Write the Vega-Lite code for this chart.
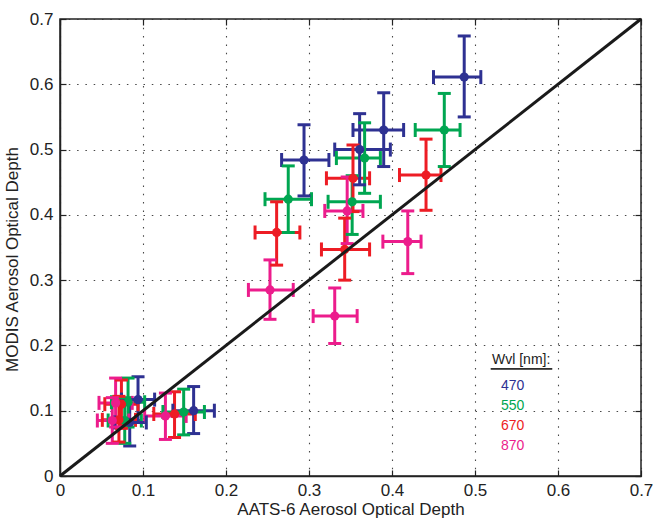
{
  "$schema": "https://vega.github.io/schema/vega-lite/v6.json",
  "width": 581,
  "height": 457,
  "autosize": "none",
  "padding": {"left": 60, "top": 19, "right": 13, "bottom": 43},
  "background": "white",
  "config": {
    "font": "Liberation Sans",
    "view": {"stroke": "#222", "strokeWidth": 1.5},
    "axis": {
      "labelFont": "Liberation Sans", "titleFont": "Liberation Sans",
      "labelFontSize": 17, "titleFontSize": 17, "labelColor": "#222", "titleColor": "#222",
      "titleFontWeight": "normal", "domainColor": "#222", "domainWidth": 1.5,
      "tickColor": "#222", "tickWidth": 1.2,
      "gridColor": "#333", "gridDash": [1.5, 6.8], "gridWidth": 1.1, "gridOpacity": 0.9
    }
  },
  "datasets": {
    "pts": [
      {"wvl": "470", "x": 0.487, "xlo": 0.450, "xhi": 0.507, "y": 0.611, "ylo": 0.550, "yhi": 0.674},
      {"wvl": "470", "x": 0.390, "xlo": 0.353, "xhi": 0.414, "y": 0.530, "ylo": 0.474, "yhi": 0.587},
      {"wvl": "470", "x": 0.361, "xlo": 0.331, "xhi": 0.398, "y": 0.500, "ylo": 0.446, "yhi": 0.555},
      {"wvl": "470", "x": 0.294, "xlo": 0.267, "xhi": 0.324, "y": 0.484, "ylo": 0.429, "yhi": 0.538},
      {"wvl": "470", "x": 0.161, "xlo": 0.136, "xhi": 0.186, "y": 0.100, "ylo": 0.065, "yhi": 0.137},
      {"wvl": "470", "x": 0.094, "xlo": 0.074, "xhi": 0.114, "y": 0.117, "ylo": 0.082, "yhi": 0.152},
      {"wvl": "470", "x": 0.084, "xlo": 0.066, "xhi": 0.104, "y": 0.082, "ylo": 0.046, "yhi": 0.117},
      {"wvl": "550", "x": 0.463, "xlo": 0.428, "xhi": 0.482, "y": 0.530, "ylo": 0.474, "yhi": 0.586},
      {"wvl": "550", "x": 0.367, "xlo": 0.333, "xhi": 0.386, "y": 0.487, "ylo": 0.433, "yhi": 0.541},
      {"wvl": "550", "x": 0.275, "xlo": 0.247, "xhi": 0.303, "y": 0.424, "ylo": 0.373, "yhi": 0.475},
      {"wvl": "550", "x": 0.352, "xlo": 0.323, "xhi": 0.386, "y": 0.420, "ylo": 0.370, "yhi": 0.460},
      {"wvl": "550", "x": 0.149, "xlo": 0.124, "xhi": 0.174, "y": 0.098, "ylo": 0.063, "yhi": 0.133},
      {"wvl": "550", "x": 0.082, "xlo": 0.062, "xhi": 0.102, "y": 0.113, "ylo": 0.075, "yhi": 0.150},
      {"wvl": "550", "x": 0.078, "xlo": 0.058, "xhi": 0.098, "y": 0.085, "ylo": 0.050, "yhi": 0.120},
      {"wvl": "670", "x": 0.441, "xlo": 0.409, "xhi": 0.459, "y": 0.461, "ylo": 0.407, "yhi": 0.516},
      {"wvl": "670", "x": 0.353, "xlo": 0.321, "xhi": 0.373, "y": 0.456, "ylo": 0.405, "yhi": 0.507},
      {"wvl": "670", "x": 0.261, "xlo": 0.235, "xhi": 0.289, "y": 0.373, "ylo": 0.323, "yhi": 0.420},
      {"wvl": "670", "x": 0.343, "xlo": 0.315, "xhi": 0.373, "y": 0.347, "ylo": 0.300, "yhi": 0.395},
      {"wvl": "670", "x": 0.138, "xlo": 0.113, "xhi": 0.163, "y": 0.095, "ylo": 0.059, "yhi": 0.129},
      {"wvl": "670", "x": 0.074, "xlo": 0.054, "xhi": 0.094, "y": 0.110, "ylo": 0.073, "yhi": 0.147},
      {"wvl": "670", "x": 0.071, "xlo": 0.051, "xhi": 0.091, "y": 0.086, "ylo": 0.052, "yhi": 0.122},
      {"wvl": "870", "x": 0.346, "xlo": 0.319, "xhi": 0.365, "y": 0.406, "ylo": 0.356, "yhi": 0.458},
      {"wvl": "870", "x": 0.419, "xlo": 0.389, "xhi": 0.435, "y": 0.359, "ylo": 0.310, "yhi": 0.406},
      {"wvl": "870", "x": 0.253, "xlo": 0.227, "xhi": 0.281, "y": 0.285, "ylo": 0.240, "yhi": 0.331},
      {"wvl": "870", "x": 0.331, "xlo": 0.305, "xhi": 0.358, "y": 0.245, "ylo": 0.203, "yhi": 0.288},
      {"wvl": "870", "x": 0.127, "xlo": 0.102, "xhi": 0.152, "y": 0.092, "ylo": 0.056, "yhi": 0.127},
      {"wvl": "870", "x": 0.067, "xlo": 0.047, "xhi": 0.087, "y": 0.112, "ylo": 0.075, "yhi": 0.150},
      {"wvl": "870", "x": 0.063, "xlo": 0.045, "xhi": 0.083, "y": 0.085, "ylo": 0.050, "yhi": 0.120}
    ],
    "diag": [{"v": 0}, {"v": 0.7}]
  },
  "resolve": {"axis": {"x": "independent", "y": "independent"}},
  "layer": [
    {
      "data": {"name": "pts"},
      "resolve": {"axis": {"x": "shared", "y": "shared"}},
      "encoding": {
        "x": {
          "field": "x", "type": "quantitative",
          "scale": {"domain": [0, 0.7], "nice": false, "zero": false},
          "axis": {
            "orient": "bottom", "title": "AATS-6 Aerosol Optical Depth",
            "values": [0, 0.1, 0.2, 0.3, 0.4, 0.5, 0.6, 0.7],
            "labelExpr": "datum.value == 0 ? '0' : format(datum.value, '.1f')",
            "tickSize": -6, "labelPadding": 12, "titlePadding": 3, "grid": true,
            "labelFlush": false
          }
        },
        "y": {
          "field": "y", "type": "quantitative",
          "scale": {"domain": [0, 0.7], "nice": false, "zero": false},
          "axis": {
            "orient": "left", "title": "MODIS Aerosol Optical Depth",
            "values": [0, 0.1, 0.2, 0.3, 0.4, 0.5, 0.6, 0.7],
            "labelExpr": "datum.value == 0 ? '0' : format(datum.value, '.1f')",
            "tickSize": -6, "labelPadding": 13, "titlePadding": 8, "grid": true,
            "labelFlush": false, "titleY": 240
          }
        },
        "color": {
          "field": "wvl", "type": "nominal",
          "scale": {"domain": ["470", "550", "670", "870"], "range": ["#2E3192", "#00A651", "#ED1C24", "#EC1C8C"]},
          "legend": {
            "title": "Wvl [nm]:", "orient": "none", "legendX": 432, "legendY": 334,
            "padding": 0, "titleFont": "Liberation Sans", "titleFontSize": 14, "titleFontWeight": "normal",
            "titleColor": "#222", "titlePadding": 12,
            "labelFont": "Liberation Sans", "labelFontSize": 14, "labelOffset": -5,
            "symbolSize": 0, "symbolOpacity": 0, "symbolStrokeWidth": 0, "rowPadding": 6,
            "encode": {"labels": {"update": {"fill": {"scale": "color", "field": "value"}}}}
          }
        }
      },
      "layer": [
        {
          "mark": {"type": "rule", "strokeWidth": 3, "opacity": 1},
          "encoding": {
            "x": {"field": "xlo", "type": "quantitative"},
            "x2": {"field": "xhi"}
          }
        },
        {
          "mark": {"type": "rule", "strokeWidth": 3, "opacity": 1},
          "encoding": {
            "y": {"field": "ylo", "type": "quantitative"},
            "y2": {"field": "yhi"}
          }
        },
        {
          "mark": {"type": "tick", "orient": "vertical", "size": 14, "thickness": 3, "opacity": 1},
          "encoding": {
            "x": {"field": "xlo", "type": "quantitative"}
          }
        },
        {
          "mark": {"type": "tick", "orient": "vertical", "size": 14, "thickness": 3, "opacity": 1},
          "encoding": {
            "x": {"field": "xhi", "type": "quantitative"}
          }
        },
        {
          "mark": {"type": "tick", "orient": "horizontal", "size": 13, "thickness": 3, "opacity": 1},
          "encoding": {
            "y": {"field": "ylo", "type": "quantitative"}
          }
        },
        {
          "mark": {"type": "tick", "orient": "horizontal", "size": 13, "thickness": 3, "opacity": 1},
          "encoding": {
            "y": {"field": "yhi", "type": "quantitative"}
          }
        },
        {
          "mark": {"type": "point", "filled": true, "size": 85, "opacity": 1}
        }
      ]
    },
    {
      "data": {"name": "diag"},
      "mark": {"type": "line", "color": "#1a1a1a", "strokeWidth": 3},
      "encoding": {
        "x": {
          "field": "v", "type": "quantitative",
          "scale": {"domain": [0, 0.7], "nice": false, "zero": false},
          "axis": {"orient": "top", "title": null, "labels": false, "grid": false, "domain": false,
                   "values": [0, 0.1, 0.2, 0.3, 0.4, 0.5, 0.6, 0.7], "tickSize": -6}
        },
        "y": {
          "field": "v", "type": "quantitative",
          "scale": {"domain": [0, 0.7], "nice": false, "zero": false},
          "axis": {"orient": "right", "title": null, "labels": false, "grid": false, "domain": false,
                   "values": [0, 0.1, 0.2, 0.3, 0.4, 0.5, 0.6, 0.7], "tickSize": -6}
        }
      }
    },
    {
      "data": {"name": "diag"},
      "mark": {"type": "rule", "color": "#222", "strokeWidth": 1.2},
      "encoding": {
        "x": {"datum": 0.519, "type": "quantitative", "axis": null},
        "x2": {"datum": 0.593},
        "y": {"datum": 0.164, "type": "quantitative", "axis": null}
      }
    }
  ]
}
